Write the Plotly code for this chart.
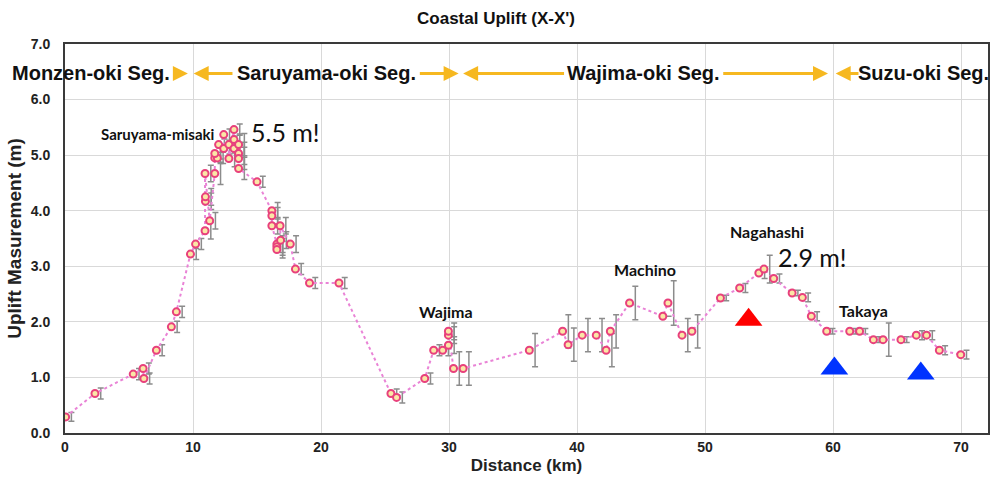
import plotly.graph_objects as go

# ---- data ----
dist_km = [0.05, 2.34, 5.33, 6.1, 6.16, 7.14, 8.31, 8.7, 9.8, 10.2,
           10.94, 10.97, 10.97, 10.94, 11.3, 11.7, 11.7, 11.9, 11.7, 12.0,
           12.4, 12.4, 12.8, 12.8, 13.2, 13.2, 13.2, 13.56, 13.56, 13.56,
           13.56, 15.0, 16.16, 16.16, 16.16, 16.55, 16.55, 16.55, 16.84, 16.8,
           17.6, 18.0, 19.1, 21.4, 25.46, 25.9, 28.1, 28.8, 29.5, 29.95,
           29.95, 29.95, 30.35, 31.1, 36.27, 38.87, 39.3, 40.4, 41.5, 42.27,
           42.6, 44.1, 46.7, 47.1, 48.2, 48.97, 51.2, 52.7, 54.2, 54.6,
           55.36, 56.8, 57.6, 58.3, 59.5, 61.3, 62.07, 63.15, 63.9, 65.3,
           66.5, 67.3, 68.3, 69.97]
uplift_m = [0.29, 0.71, 1.06, 1.16, 0.98, 1.49, 1.91, 2.18, 3.22, 3.40,
            3.64, 4.17, 4.25, 4.67, 3.82, 4.67, 4.95, 4.95, 5.03, 5.19,
            5.37, 5.12, 5.19, 4.94, 5.46, 5.28, 5.12, 5.19, 5.03, 4.94,
            4.76, 4.52, 4.00, 3.91, 3.73, 3.40, 3.35, 3.30, 3.47, 3.73,
            3.40, 2.95, 2.70, 2.70, 0.71, 0.64, 0.98, 1.49, 1.49, 1.58,
            1.76, 1.83, 1.16, 1.16, 1.49, 1.83, 1.59, 1.76, 1.76, 1.49,
            1.83, 2.34, 2.10, 2.34, 1.76, 1.83, 2.43, 2.61, 2.88, 2.95,
            2.78, 2.52, 2.44, 2.10, 1.83, 1.83, 1.83, 1.68, 1.68, 1.68,
            1.76, 1.76, 1.49, 1.41]
uplift_err = [0.08, 0.10, 0.10, 0.10, 0.10, 0.10, 0.10, 0.10, 0.10, 0.10,
              0.15, 0.15, 0.15, 0.15, 0.15, 0.20, 0.10, 0.10, 0.10, 0.10,
              0.10, 0.10, 0.15, 0.15, 0.10, 0.10, 0.10, 0.20, 0.20, 0.20,
              0.20, 0.10, 0.15, 0.15, 0.15, 0.15, 0.15, 0.15, 0.15, 0.15,
              0.15, 0.10, 0.10, 0.10, 0.08, 0.10, 0.10, 0.10, 0.10, 0.15,
              0.15, 0.15, 0.30, 0.30, 0.30, 0.30, 0.30, 0.30, 0.30, 0.30,
              0.30, 0.30, 0.00, 0.40, 0.30, 0.30, 0.05, 0.08, 0.10, 0.25,
              0.08, 0.05, 0.08, 0.08, 0.05, 0.05, 0.05, 0.05, 0.30, 0.05,
              0.08, 0.08, 0.08, 0.08]

red_tri_x = [53.4]
red_tri_y = [2.04]
blue_tri_x = [60.1, 66.85]
blue_tri_y = [1.16, 1.07]

seg_names = ["Monzen-oki Seg.", "Saruyama-oki Seg.", "Wajima-oki Seg.", "Suzu-oki Seg."]
seg_center_km = [2.0, 20.4, 45.2, 67.1]
seg_level_m = 6.47
# arrows: (tail_km, tip_km)
seg_arrows = [(8.5, 9.6), (13.2, 10.05), (27.6, 30.75), (39.1, 31.1), (51.3, 59.6), (62.1, 60.2)]

site_names = ["Saruyama-misaki", "Wajima", "Machino", "Nagahashi", "Takaya"]
site_x = [7.3, 29.8, 45.3, 54.8, 62.4]
site_y = [5.38, 2.18, 2.95, 3.63, 2.21]
site_font = [15, 16, 16, 16, 16]

peak_text = ["5.5 m!", "2.9 m!"]
peak_x = [17.2, 58.4]
peak_y = [5.41, 3.17]

x_ticks = [0, 10, 20, 30, 40, 50, 60, 70]
y_ticks = [0, 1, 2, 3, 4, 5, 6, 7]

ERR_SHIFT = 0.45  # error bars drawn slightly right of the markers (as in original)

AX_FONT = "Liberation Sans Narrow, Arial Narrow, Liberation Sans, Arial, sans-serif"
SANS = "Liberation Sans, Arial, sans-serif"
LBL_FONT = "Lato, Carlito, Calibri, sans-serif"

fig = go.Figure()

fig.add_trace(go.Scatter(
    x=[v + ERR_SHIFT for v in dist_km], y=uplift_m, mode="markers",
    marker=dict(size=1, color="rgba(0,0,0,0)"),
    error_y=dict(type="data", array=uplift_err, visible=True,
                 color="#8c8c8c", thickness=1.5, width=3),
    hoverinfo="skip", showlegend=False))

fig.add_trace(go.Scatter(
    x=dist_km, y=uplift_m, mode="lines+markers",
    line=dict(color="#e983d6", width=2, dash="dot"),
    marker=dict(size=7, color="#fbe6a6", line=dict(color="#e8417c", width=2)),
    showlegend=False))

fig.add_trace(go.Scatter(
    x=red_tri_x, y=red_tri_y, mode="markers",
    marker=dict(symbol="triangle-up", size=24, color="#ff0000"),
    showlegend=False))
fig.add_trace(go.Scatter(
    x=blue_tri_x, y=blue_tri_y, mode="markers",
    marker=dict(symbol="triangle-up", size=24, color="#0033ff"),
    showlegend=False))

ann = []
for name, cx in zip(seg_names, seg_center_km):
    ann.append(dict(x=cx, y=seg_level_m, xref="x", yref="y", text="<b>%s</b>" % name,
                    showarrow=False, font=dict(family=SANS, size=20, color="#111111"),
                    xanchor="center", yanchor="middle"))
for tail, tip in seg_arrows:
    ann.append(dict(x=tip, y=seg_level_m, ax=tail, ay=seg_level_m, xref="x", yref="y",
                    axref="x", ayref="y", text="", showarrow=True, arrowhead=2,
                    arrowsize=1, arrowwidth=3, arrowcolor="#f6b820",
                    standoff=0, startstandoff=0))
for name, sx, sy, fs in zip(site_names, site_x, site_y, site_font):
    ann.append(dict(x=sx, y=sy, xref="x", yref="y", text="<b>%s</b>" % name,
                    showarrow=False, font=dict(family=LBL_FONT, size=fs, color="#111111"),
                    xanchor="center", yanchor="middle"))
for t, px_, py_ in zip(peak_text, peak_x, peak_y):
    ann.append(dict(x=px_, y=py_, xref="x", yref="y", text=t,
                    showarrow=False, font=dict(family=LBL_FONT, size=25, color="#111111"),
                    xanchor="center", yanchor="middle"))

fig.update_layout(
    width=996, height=478,
    margin=dict(l=65, r=6, t=44, b=45),
    paper_bgcolor="white", plot_bgcolor="white",
    title=dict(text="<b>Coastal Uplift (X-X')</b>", x=0.467, xref="paper", xanchor="center",
               y=0.962, yref="container", yanchor="middle",
               font=dict(family=SANS, size=17, color="#111111")),
    annotations=ann,
    showlegend=False,
)
fig.update_xaxes(
    range=[0, 72.1], tickvals=x_ticks, ticktext=["<b>%d</b>" % v for v in x_ticks],
    showgrid=True, gridcolor="#d9d9d9", gridwidth=1, zeroline=False,
    showline=True, linecolor="#3a3a3a", linewidth=2, mirror=True, ticks="",
    tickfont=dict(family=AX_FONT, size=14, color="#222222"),
    title=dict(text="<b>Distance (km)</b>", standoff=5,
               font=dict(family=AX_FONT, size=17, color="#222222")))
fig.update_yaxes(
    range=[0, 7], tickvals=y_ticks, ticktext=["<b>%.1f</b>" % v for v in y_ticks],
    showgrid=True, gridcolor="#d9d9d9", gridwidth=1, zeroline=False,
    showline=True, linecolor="#3a3a3a", linewidth=2, mirror=True, ticks="",
    ticklabelstandoff=10,
    tickfont=dict(family=AX_FONT, size=14, color="#222222"),
    title=dict(text="<b>Uplift Masurement (m)</b>", standoff=4,
               font=dict(family=SANS, size=19, color="#222222")))

fig.write_html("out.html")
